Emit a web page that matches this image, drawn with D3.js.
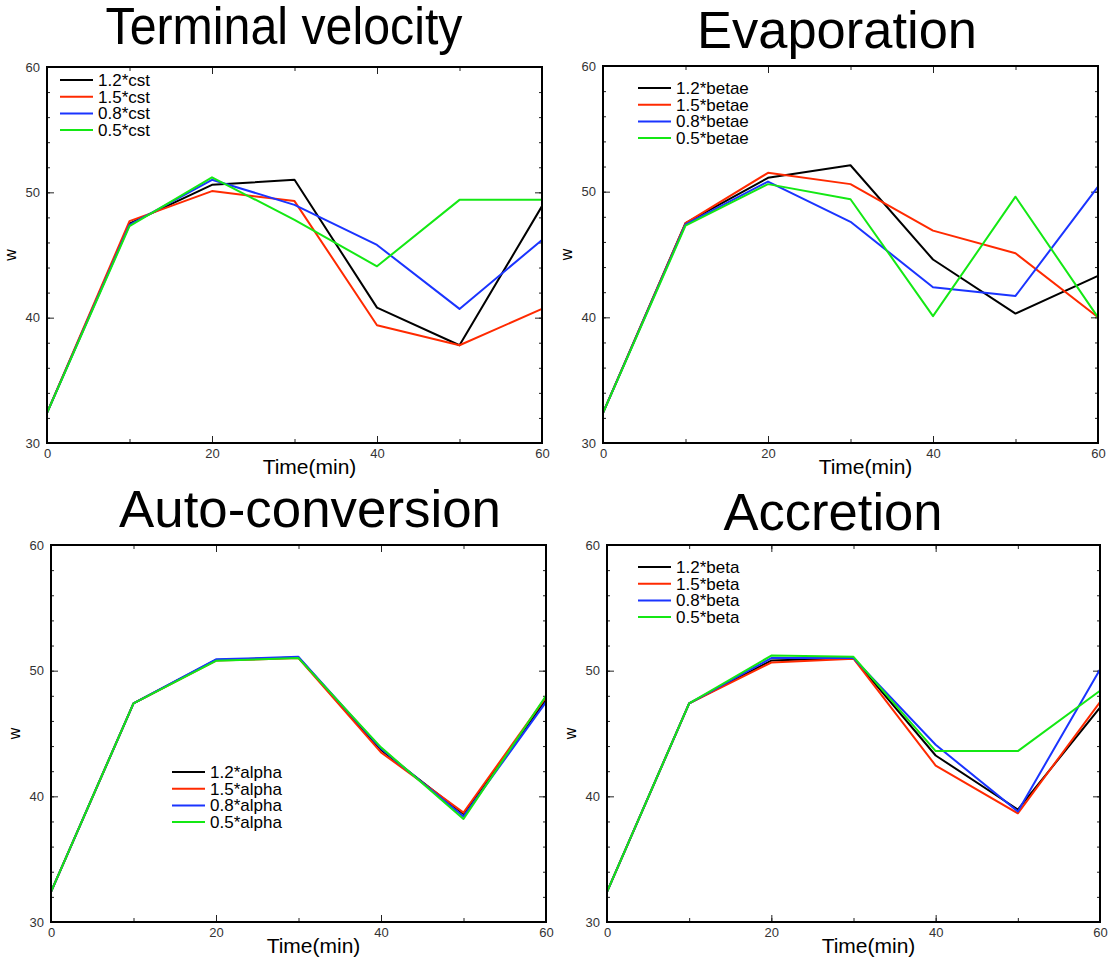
<!DOCTYPE html>
<html>
<head>
<meta charset="utf-8">
<script src="https://cdn.jsdelivr.net/npm/d3@7"></script>
<style>
  body { margin: 0; background: #fff; }
  text { font-family: "Liberation Sans", Arial, Helvetica, sans-serif; }
</style>
</head>
<body>
<div id="viz"></div>
<script>

// shared axis values
var times = [0, 10, 20, 30, 40, 50, 60];
var xTicks = [0, 20, 40, 60];
var yTicks = [30, 40, 50, 60];

// Terminal velocity
var tvLabels = ["1.2*cst", "1.5*cst", "0.8*cst", "0.5*cst"];
var tv12 = [32.4, 47.5, 50.6, 51.0, 40.8, 37.8, 48.9];
var tv15 = [32.4, 47.7, 50.1, 49.3, 39.4, 37.8, 40.7];
var tv08 = [32.4, 47.4, 51.0, 49.0, 45.8, 40.7, 46.2];
var tv05 = [32.4, 47.3, 51.2, 47.8, 44.1, 49.4, 49.4];

// Evaporation
var evLabels = ["1.2*betae", "1.5*betae", "0.8*betae", "0.5*betae"];
var ev12 = [32.4, 47.5, 51.1, 52.1, 44.6, 40.3, 43.3];
var ev15 = [32.4, 47.5, 51.5, 50.6, 46.9, 45.1, 40.0];
var ev08 = [32.4, 47.4, 50.8, 47.6, 42.4, 41.7, 50.4];
var ev05 = [32.4, 47.3, 50.6, 49.4, 40.1, 49.6, 40.0];

// Auto-conversion
var auLabels = ["1.2*alpha", "1.5*alpha", "0.8*alpha", "0.5*alpha"];
var au12 = [32.4, 47.4, 50.85, 51.05, 43.7, 38.6, 47.7];
var au15 = [32.4, 47.4, 50.8, 51.0, 43.5, 38.7, 47.9];
var au08 = [32.4, 47.4, 50.9, 51.1, 43.8, 38.4, 47.5];
var au05 = [32.4, 47.4, 50.78, 51.0, 43.9, 38.2, 48.0];

// Accretion
var acLabels = ["1.2*beta", "1.5*beta", "0.8*beta", "0.5*beta"];
var ac12 = [32.4, 47.4, 50.8, 51.0, 43.25, 38.95, 47.05];
var ac15 = [32.4, 47.4, 50.65, 50.95, 42.45, 38.65, 47.5];
var ac08 = [32.4, 47.4, 51.0, 51.0, 44.1, 38.8, 50.1];
var ac05 = [32.4, 47.4, 51.2, 51.1, 43.6, 43.6, 48.4];

var colors = ["#000000", "#ff2a00", "#1a34ff", "#14e814"];

var panels = [
  { title: "Terminal velocity", labels: tvLabels, series: [tv12, tv15, tv08, tv05],
    x: 47, y: 67, w: 495, h: 376, tx: 284, ty: 44, tw: 357, lx: 60, ly: 80 },
  { title: "Evaporation", labels: evLabels, series: [ev12, ev15, ev08, ev05],
    x: 603, y: 66, w: 495, h: 377, tx: 837, ty: 48, tw: 280, lx: 638, ly: 88 },
  { title: "Auto-conversion", labels: auLabels, series: [au12, au15, au08, au05],
    x: 51, y: 545, w: 495, h: 377, tx: 310, ty: 527, tw: 382, lx: 172, ly: 772 },
  { title: "Accretion", labels: acLabels, series: [ac12, ac15, ac08, ac05],
    x: 607, y: 545, w: 493, h: 377, tx: 833, ty: 530, tw: 219, lx: 638, ly: 567 }
];

var svg = d3.select("#viz").append("svg")
  .attr("width", 1108)
  .attr("height", 963);

panels.forEach(function(p) {

  var xScale = d3.scaleLinear().domain([0, 60]).range([0, p.w]);
  var yScale = d3.scaleLinear().domain([30, 60]).range([p.h, 0]);

  svg.append("text")
    .attr("x", p.tx).attr("y", p.ty)
    .attr("text-anchor", "middle")
    .attr("textLength", p.tw)
    .attr("lengthAdjust", "spacingAndGlyphs")
    .style("font-size", "51px")
    .text(p.title);

  var g = svg.append("g")
    .attr("transform", "translate(" + p.x + "," + p.y + ")");

  // minor ticks, all four sides
  g.append("g").call(d3.axisLeft(yScale).tickValues(d3.range(30, 61, 2)).tickSize(-3).tickFormat(""));
  g.append("g").attr("transform", "translate(" + p.w + ",0)")
    .call(d3.axisRight(yScale).tickValues(d3.range(30, 61, 2)).tickSize(-3).tickFormat(""));
  g.append("g").attr("transform", "translate(0," + p.h + ")")
    .call(d3.axisBottom(xScale).tickValues(times).tickSize(-4).tickFormat(""));
  g.append("g")
    .call(d3.axisTop(xScale).tickValues(times).tickSize(-4).tickFormat(""));

  // major ticks with labels
  g.append("g").attr("class", "lab")
    .call(d3.axisLeft(yScale).tickValues(yTicks).tickSize(-7).tickPadding(7));
  g.append("g").attr("transform", "translate(" + p.w + ",0)")
    .call(d3.axisRight(yScale).tickValues(yTicks).tickSize(-7).tickFormat(""));
  g.append("g").attr("class", "lab").attr("transform", "translate(0," + p.h + ")")
    .call(d3.axisBottom(xScale).tickValues(xTicks).tickSize(-7).tickPadding(6));
  g.append("g")
    .call(d3.axisTop(xScale).tickValues(xTicks).tickSize(-7).tickFormat(""));

  g.selectAll(".domain").remove();
  g.selectAll(".tick line").attr("stroke", "#222").attr("stroke-width", 1);
  g.selectAll(".lab text")
    .style("font-size", "13px")
    .style("font-family", "'Liberation Sans', Arial, sans-serif")
    .attr("fill", "#333");

  // data lines
  var line = d3.line()
    .x(function(d, i) { return xScale(times[i]); })
    .y(function(d) { return yScale(d); });

  p.series.forEach(function(s, k) {
    g.append("path")
      .datum(s)
      .attr("d", line)
      .attr("fill", "none")
      .attr("stroke", colors[k])
      .attr("stroke-width", 2)
      .attr("stroke-linejoin", "round");
  });

  // frame
  g.append("rect")
    .attr("width", p.w).attr("height", p.h)
    .attr("fill", "none")
    .attr("stroke", "#000")
    .attr("stroke-width", 2);

  // axis titles
  g.append("text")
    .attr("x", p.w / 2 + 15).attr("y", p.h + 31)
    .attr("text-anchor", "middle")
    .style("font-size", "21px")
    .text("Time(min)");

  g.append("text")
    .attr("transform", "translate(" + (-31) + "," + (p.h / 2) + ") rotate(-90)")
    .attr("text-anchor", "middle")
    .style("font-size", "16px")
    .text("w");

  // legend
  var leg = svg.append("g")
    .attr("transform", "translate(" + p.lx + "," + p.ly + ")");
  p.labels.forEach(function(lbl, k) {
    leg.append("line")
      .attr("x1", 0).attr("x2", 33)
      .attr("y1", k * 16.7).attr("y2", k * 16.7)
      .attr("stroke", colors[k]).attr("stroke-width", 2);
    leg.append("text")
      .attr("x", 38).attr("y", k * 16.7 + 6)
      .style("font-size", "17px")
      .text(lbl);
  });
});

</script>
</body>
</html>
